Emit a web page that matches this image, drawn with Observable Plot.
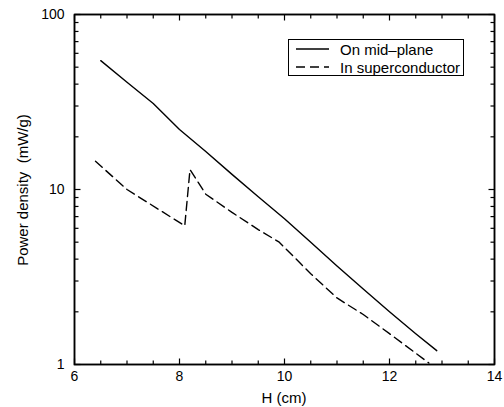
<!DOCTYPE html>
<html>
<head>
<meta charset="utf-8">
<script src="https://cdn.jsdelivr.net/npm/d3@7"></script>
<script src="https://cdn.jsdelivr.net/npm/@observablehq/plot@0.6"></script>
<style>
  html, body { margin: 0; padding: 0; background: #fff; }
  #wrap { position: relative; width: 504px; height: 407px; font-family: "Liberation Sans", Arial, Helvetica, sans-serif; }
  #legend { position: absolute; left: 288px; top: 39px; width: 176px; height: 37px; border: 1px solid #000; background: #fff; box-sizing: border-box; }
  .row { position: absolute; left: 0; height: 18px; display: flex; align-items: center; font-size: 15px; color: #000; white-space: nowrap; }
  .row svg { margin-left: 7px; margin-right: 11px; }
</style>
</head>
<body>
<div id="wrap"></div>
<script>
// Data
const midH = [6.5, 7, 7.5, 8, 8.5, 9, 9.5, 10, 10.5, 11, 11.5, 12, 12.5, 12.9];
const midP = [54.5, 41, 31, 22, 16.5, 12.2, 9.1, 6.8, 5.0, 3.65, 2.7, 2.0, 1.5, 1.2];
const supH = [6.4, 7, 8.1, 8.2, 8.5, 9, 9.5, 9.9, 10.5, 11, 11.5, 12, 12.75];
const supP = [14.5, 10, 6.2, 13, 9.4, 7.4, 5.9, 5.0, 3.3, 2.4, 1.93, 1.5, 1.02];
const seriesNames = ["On mid\u2013plane", "In superconductor"];
const xDomain = [6, 14];
const yDomain = [1, 100];
const xMajor = [6, 8, 10, 12, 14];
const xMinor = [6.5, 7, 7.5, 8.5, 9, 9.5, 10.5, 11, 11.5, 12.5, 13, 13.5];
const yMajor = [1, 10, 100];
const yMinor = [2, 3, 4, 5, 6, 7, 8, 9, 20, 30, 40, 50, 60, 70, 80, 90];
const xTitle = "H (cm)";
const yTitle = "Power density\u00a0 (mW/g)";

const mid = midH.map((h, i) => ({h, p: midP[i]}));
const sup = supH.map((h, i) => ({h, p: supP[i]}));

const W = 504, H = 407, mL = 74, mR = 10, mT = 14, mB = 43;
const pw = W - mL - mR, ph = H - mT - mB;

// Inward tick segments built from the tick arrays; length converted from px to data units
const xPerPx = (xDomain[1] - xDomain[0]) / pw;
const yFacPerPx = Math.pow(yDomain[1] / yDomain[0], 1 / ph);
const segs = [];
let sid = 0;
function addX(vals, len) {
  const f = Math.pow(yFacPerPx, len);
  for (const v of vals) {
    segs.push({id: sid, x: v, y: yDomain[0]}, {id: sid++, x: v, y: yDomain[0] * f});
    segs.push({id: sid, x: v, y: yDomain[1]}, {id: sid++, x: v, y: yDomain[1] / f});
  }
}
function addY(vals, len) {
  const d = len * xPerPx;
  for (const v of vals) {
    segs.push({id: sid, x: xDomain[0], y: v}, {id: sid++, x: xDomain[0] + d, y: v});
    segs.push({id: sid, x: xDomain[1], y: v}, {id: sid++, x: xDomain[1] - d, y: v});
  }
}
addX(xMajor, 6); addX(xMinor, 4); addY(yMajor, 6); addY(yMinor, 4);
// frame outline from the domains
const box = [
  {x: xDomain[0], y: yDomain[0]}, {x: xDomain[1], y: yDomain[0]},
  {x: xDomain[1], y: yDomain[1]}, {x: xDomain[0], y: yDomain[1]}, {x: xDomain[0], y: yDomain[0]}
];

const chart = Plot.plot({
  width: W,
  height: H,
  marginLeft: mL,
  marginRight: mR,
  marginTop: mT,
  marginBottom: mB,
  style: {fontFamily: "'Liberation Sans', Arial, Helvetica, sans-serif", fontSize: "14px", color: "#000", background: "#fff"},
  x: {domain: xDomain, ticks: xMajor, tickSize: 0, tickPadding: 7, label: null},
  y: {type: "log", domain: yDomain, ticks: yMajor, tickSize: 0, tickPadding: 10, label: null, tickFormat: d => String(d)},
  marks: [
    Plot.frame({stroke: "#000", fill: "none", strokeWidth: 1.5}),
    Plot.line(box, {x: "x", y: "y", stroke: "#000", strokeWidth: 1.5, strokeLinejoin: "miter", strokeLinecap: "square"}),
    Plot.line(segs, {x: "x", y: "y", z: "id", stroke: "#000", strokeWidth: 1.2, strokeLinecap: "butt"}),
    Plot.line(mid, {x: "h", y: "p", stroke: "#000", strokeWidth: 1.4}),
    Plot.line(sup, {x: "h", y: "p", stroke: "#000", strokeWidth: 1.4, strokeDasharray: "9,5"})
  ]
});

const wrap = document.getElementById("wrap");
wrap.appendChild(chart);

// axis titles (as SVG text)
const svg = d3.select(chart);
svg.append("text")
  .attr("x", (mL + W - mR) / 2).attr("y", 397)
  .attr("text-anchor", "middle").attr("dominant-baseline", "central")
  .attr("font-size", 15).attr("fill", "#000")
  .text(xTitle);
svg.append("text")
  .attr("transform", "translate(22,190) rotate(-90)")
  .attr("text-anchor", "middle").attr("dominant-baseline", "central")
  .attr("font-size", 15).attr("fill", "#000")
  .style("white-space", "pre")
  .text(yTitle);

// legend
const legend = document.createElement("div");
legend.id = "legend";
const dashes = [null, "9,5"];
seriesNames.forEach((name, i) => {
  const row = document.createElement("div");
  row.className = "row";
  row.style.top = (i === 0 ? 0 : 18) + "px";
  row.innerHTML = `<svg width="33" height="4"><line x1="0" x2="33" y1="2" y2="2" stroke="#000" stroke-width="1.4" ${dashes[i] ? `stroke-dasharray="${dashes[i]}"` : ""}/></svg><span>${name}</span>`;
  legend.appendChild(row);
});
wrap.appendChild(legend);
</script>
</body>
</html>
